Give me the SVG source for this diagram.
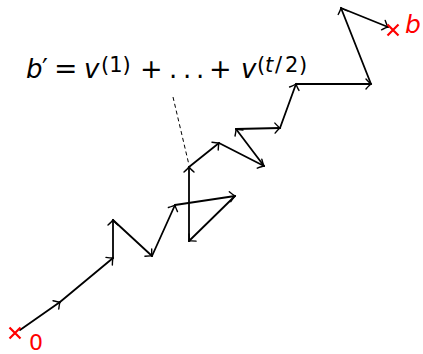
<svg xmlns="http://www.w3.org/2000/svg" width="423" height="354" viewBox="0 0 423 354">
<style>
.s{stroke:#000;stroke-width:1.8;fill:none;stroke-linecap:round;marker-end:url(#ah)}
.d{stroke:#000;stroke-width:1;stroke-dasharray:4 3;fill:none}
.x{stroke:#f00;stroke-width:2.2;fill:none}
.t{font-family:"DejaVu Sans",sans-serif;fill:#000}
.r{font-family:"DejaVu Sans",sans-serif;fill:#f00}
.sup{font-size:21px}
.i{font-style:italic}
</style>
<defs>
<marker id="ah" markerUnits="userSpaceOnUse" markerWidth="14" markerHeight="14" viewBox="-7 -7 14 14" refX="0" refY="0" orient="auto">
<path d="M-5,-5 Q-1.5,-1 0,0 Q-1.5,1 -5,5" stroke="#000" stroke-width="1.4" fill="none" stroke-linecap="round"/>
</marker>
</defs>
<g id="connectors">
<line class="s" x1="20" y1="330" x2="60" y2="302"/>
<line class="s" x1="60" y1="302" x2="113" y2="258"/>
<line class="s" x1="113" y1="258" x2="113" y2="220"/>
<line class="s" x1="113" y1="220" x2="152" y2="256"/>
<line class="s" x1="152" y1="256" x2="175" y2="205"/>
<line class="s" x1="175" y1="205" x2="235" y2="196"/>
<line class="s" x1="235" y1="196" x2="189" y2="241"/>
<line class="s" x1="189" y1="241" x2="189" y2="167"/>
<line class="s" x1="189" y1="167" x2="219" y2="143"/>
<line class="s" x1="219" y1="143" x2="264" y2="166"/>
<line class="s" x1="264" y1="166" x2="236" y2="129"/>
<line class="s" x1="236" y1="129" x2="280" y2="128"/>
<line class="s" x1="280" y1="128" x2="296" y2="84"/>
<line class="s" x1="296" y1="84" x2="371" y2="84"/>
<line class="s" x1="371" y1="84" x2="341" y2="8"/>
<line class="s" x1="341" y1="8" x2="388" y2="27"/>
<line class="d" x1="173" y1="97" x2="189" y2="165"/>
</g>
<g id="start">
<path class="x" d="M9.5,327.5 L20.5,338.5 M20.5,327.5 L9.5,338.5"/>
<text class="r" x="29" y="350" font-size="22">0</text>
</g>
<g id="end">
<path class="x" d="M387.5,24.5 L398.5,35.5 M398.5,24.5 L387.5,35.5"/>
<text class="r i" x="405" y="33" font-size="25">b</text>
</g>
<g id="label">
<text class="t" y="78" font-size="26"><tspan class="i" x="26">b</tspan><tspan x="42">′</tspan><tspan x="54" font-size="28">=</tspan><tspan class="i" x="84">v</tspan><tspan class="sup" x="101" y="72">(1)</tspan><tspan x="140" y="78" font-size="27">+</tspan><tspan x="169">.</tspan><tspan x="183">.</tspan><tspan x="196">.</tspan><tspan x="209" font-size="27">+</tspan><tspan class="i" x="241">v</tspan><tspan class="sup" x="257" y="72">(</tspan><tspan class="sup i" x="265">t</tspan><tspan class="sup" x="275">/</tspan><tspan class="sup" x="285">2</tspan><tspan class="sup" x="299">)</tspan></text>
</g>
</svg>
